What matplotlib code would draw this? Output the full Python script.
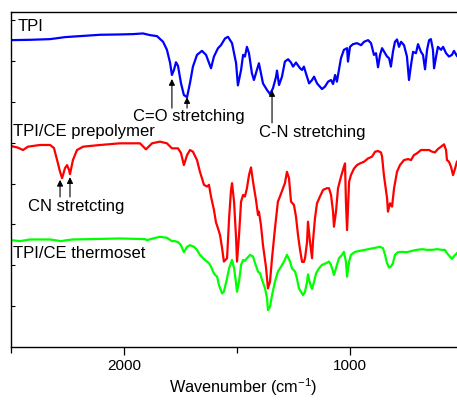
import numpy as np
import matplotlib
matplotlib.use('Agg')
import matplotlib.pyplot as plt
from matplotlib.ticker import MultipleLocator

plt.rcParams['font.family'] = ['Liberation Sans', 'DejaVu Sans']
plt.rcParams['mathtext.fontset'] = 'custom'
plt.rcParams['mathtext.rm'] = 'Liberation Sans'
plt.rcParams['mathtext.it'] = 'Liberation Sans'

#--- TPI (blue), wavenumber / transmittance (a.u.)
wn_tpi = [2500, 2416, 2327, 2261, 2106, 2018, 1960, 1916, 1885, 1854, 1827, 1810, 1796, 1788, 1779, 1770, 1761,
          1748, 1735, 1721, 1708, 1695, 1677, 1655, 1637, 1615, 1602, 1584, 1571, 1553, 1540, 1522, 1504,
          1496, 1482, 1473, 1465, 1456, 1447, 1434, 1425, 1412, 1403, 1394, 1385, 1367, 1354, 1341, 1327,
          1323, 1314, 1301, 1288, 1274, 1261, 1252, 1239, 1221, 1212, 1204, 1195, 1181, 1168, 1159, 1146,
          1133, 1124, 1111, 1097, 1084, 1075, 1066, 1058, 1049, 1040, 1027, 1013, 1009, 1000, 987, 969,
          951, 938, 920, 907, 894, 885, 876, 867, 858, 845, 836, 827, 819, 810, 801, 792, 783, 774, 761,
          748, 739, 730, 721, 708, 699, 686, 677, 668, 659, 650, 642, 633, 628, 619, 611, 597, 588, 575,
          562, 549, 540, 527]
t_tpi = [91.6, 91.7, 91.9, 92.5, 93.2, 93.3, 93.4, 93.6, 93.1, 92.8, 91.1, 88.7, 84.8, 81.2, 82.7, 85.0, 83.9,
         78.8, 75.2, 74.6, 78.8, 83.7, 87.2, 88.4, 87.2, 83.2, 86.7, 89.2, 90.1, 92.1, 92.6, 90.7, 84.7,
         78.1, 82.7, 87.2, 86.7, 89.6, 87.7, 81.7, 79.7, 82.7, 84.7, 81.7, 78.7, 76.7, 75.5, 77.2, 80.7,
         82.5, 78.2, 80.7, 85.2, 85.9, 84.9, 83.7, 84.9, 83.2, 82.7, 83.7, 81.7, 78.7, 79.7, 80.7, 78.7,
         77.7, 77.0, 77.7, 79.2, 79.7, 78.5, 81.2, 79.2, 82.7, 86.2, 88.7, 89.2, 85.2, 89.6, 90.4, 90.7,
         90.1, 91.1, 91.6, 90.7, 87.2, 87.7, 83.5, 87.2, 89.2, 87.7, 86.7, 86.2, 83.7, 88.1, 91.1, 91.8,
         89.6, 91.1, 90.1, 86.7, 79.7, 84.2, 88.1, 87.7, 90.4, 88.1, 87.2, 82.9, 88.7, 91.6, 91.9, 88.7,
         83.2, 86.7, 89.6, 88.7, 89.6, 87.7, 86.7, 87.2, 88.4, 86.9]

#--- TPI/CE prepolymer (red)
wn_pre = [2500, 2469, 2447, 2425, 2372, 2327, 2310, 2296, 2283, 2274, 2261, 2252, 2243, 2239, 2226, 2208,
          2181, 2106, 2018, 1929, 1903, 1876, 1841, 1810, 1788, 1761, 1748, 1735, 1721, 1708, 1695, 1677,
          1664, 1646, 1633, 1624, 1615, 1602, 1593, 1584, 1575, 1566, 1558, 1544, 1535, 1527, 1522, 1513,
          1504, 1500, 1491, 1482, 1473, 1465, 1456, 1447, 1438, 1429, 1416, 1407, 1403, 1394, 1385, 1372,
          1363, 1354, 1345, 1332, 1319, 1310, 1296, 1288, 1279, 1270, 1261, 1248, 1239, 1230, 1221, 1212,
          1204, 1199, 1190, 1186, 1177, 1168, 1164, 1155, 1146, 1133, 1119, 1102, 1093, 1084, 1075, 1071,
          1062, 1053, 1040, 1027, 1022, 1018, 1013, 1004, 996, 982, 969, 956, 938, 920, 903, 889, 876,
          863, 858, 850, 836, 832, 823, 814, 805, 792, 779, 761, 743, 730, 717, 704, 686, 668, 650, 637,
          624, 611, 597, 584, 575, 571, 562, 553, 544, 535, 527]
t_pre = [60.0, 59.5, 58.8, 59.8, 60.3, 60.3, 59.4, 55.8, 52.3, 50.4, 53.4, 54.3, 52.8, 51.6, 55.8, 58.8,
         59.8, 60.3, 60.8, 60.8, 59.0, 60.8, 61.3, 60.8, 59.3, 59.3, 57.9, 54.3, 57.3, 58.8, 58.3, 55.8,
         52.3, 48.4, 47.9, 48.4, 44.9, 40.9, 37.2, 35.4, 33.4, 29.5, 25.5, 26.5, 38.4, 46.4, 48.9, 43.4,
         32.4, 25.5, 33.4, 43.4, 45.4, 44.9, 47.4, 51.3, 53.6, 49.3, 43.9, 39.4, 40.4, 36.4, 30.4, 24.0,
         17.5, 19.5, 26.5, 35.4, 43.4, 44.9, 47.4, 48.9, 52.3, 50.4, 43.4, 42.4, 38.9, 33.4, 29.0, 25.4,
         25.4, 26.5, 31.4, 37.4, 31.4, 26.5, 31.4, 38.4, 42.9, 44.9, 46.9, 47.4, 47.4, 45.4, 40.4, 35.9,
         40.4, 47.4, 50.8, 53.8, 54.8, 43.4, 34.9, 49.3, 51.3, 53.3, 54.3, 54.8, 55.3, 56.3, 56.8, 58.3,
         58.5, 58.1, 56.8, 51.3, 44.4, 40.4, 42.9, 41.9, 47.4, 52.3, 54.3, 55.8, 56.1, 55.8, 57.3, 57.8,
         58.8, 58.8, 58.8, 58.3, 58.1, 59.1, 59.8, 60.5, 58.8, 55.8, 55.3, 53.8, 51.3, 53.3, 55.3]

#--- TPI/CE thermoset (green)
wn_cur = [2500, 2460, 2416, 2327, 2279, 2252, 2226, 2150, 2018, 1907, 1898, 1872, 1841, 1810, 1788, 1774,
          1761, 1748, 1735, 1721, 1708, 1690, 1677, 1664, 1642, 1624, 1615, 1606, 1597, 1588, 1580, 1566,
          1558, 1544, 1535, 1522, 1513, 1504, 1500, 1491, 1482, 1473, 1465, 1456, 1442, 1429, 1420, 1407,
          1398, 1389, 1376, 1367, 1363, 1354, 1345, 1332, 1319, 1305, 1292, 1279, 1265, 1257, 1243, 1235,
          1226, 1217, 1208, 1199, 1190, 1186, 1177, 1168, 1159, 1150, 1137, 1124, 1106, 1093, 1084, 1075,
          1071, 1062, 1049, 1035, 1027, 1018, 1013, 1004, 996, 978, 956, 934, 911, 889, 867, 854, 845,
          836, 827, 819, 810, 801, 788, 770, 748, 726, 704, 681, 659, 637, 615, 593, 580, 571, 558, 549,
          535, 527]
t_cur = [31.9, 31.6, 32.1, 32.1, 31.6, 31.9, 32.1, 32.2, 32.4, 32.2, 31.9, 32.4, 32.9, 32.6, 31.6, 31.6,
         31.3, 30.4, 28.3, 29.9, 30.4, 29.9, 29.0, 27.5, 26.0, 25.0, 24.0, 22.5, 21.5, 21.0, 18.5, 16.0,
         16.5, 20.5, 23.5, 26.0, 23.5, 19.0, 16.5, 19.5, 24.5, 26.0, 25.7, 26.5, 27.5, 27.0, 25.0, 22.5,
         22.0, 20.0, 17.5, 14.5, 11.0, 12.0, 15.5, 19.5, 22.5, 24.0, 25.5, 27.5, 25.5, 23.5, 22.5, 20.5,
         17.5, 16.5, 15.5, 16.5, 19.5, 21.7, 19.0, 17.3, 19.5, 22.0, 23.5, 24.5, 25.0, 25.5, 24.5, 22.5,
         21.5, 23.5, 26.5, 27.5, 28.4, 25.5, 21.0, 25.5, 27.5, 28.4, 28.7, 29.0, 29.3, 29.6, 29.9, 29.5,
         27.5, 25.0, 23.7, 24.0, 25.0, 27.5, 28.3, 28.4, 28.3, 28.7, 29.0, 29.2, 29.0, 29.0, 29.2, 29.0,
         29.0, 28.0, 27.0, 26.3, 27.5, 28.0]

fig = plt.figure(figsize=(4.57, 4.03), dpi=100)
ax = fig.add_axes([11 / 457, 56 / 403, 452 / 457, 335 / 403])

ax.plot(wn_tpi, t_tpi, color='#0000ff', lw=1.6)
ax.plot(wn_pre, t_pre, color='#ff0000', lw=1.6)
ax.plot(wn_cur, t_cur, color='#00ff00', lw=1.6)

ax.set_xlim(2500, 500)
ax.set_ylim(0, 100)

ax.xaxis.set_major_locator(MultipleLocator(1000))
ax.xaxis.set_minor_locator(MultipleLocator(500))
ax.tick_params(axis='x', which='major', direction='out', length=6, width=0.9, labelsize=11, pad=3)
ax.tick_params(axis='x', which='minor', direction='out', length=4, width=0.9)
ax.set_yticks(np.arange(12.2, 100, 12.2))
ax.tick_params(axis='y', direction='in', length=3, width=0.8, labelleft=False)
ax.tick_params(top=False, right=False)
for s in ax.spines.values():
    s.set_linewidth(1.0)

ax.set_xlabel('Wavenumber (cm$^{\\mathregular{-1}}$)', fontsize=11.7)
ax.xaxis.set_label_coords(0.513, -0.086)

#--- labels
fs = 12
ax.text(2469, 94.3, 'TPI', fontsize=fs)
ax.text(1960, 67.5, 'C=O stretching', fontsize=fs)
ax.text(1403, 62.7, 'C-N stretching', fontsize=fs)
ax.text(2491, 63.0, 'TPI/CE prepolymer', fontsize=fs)
ax.text(2425, 40.6, 'CN stretcting', fontsize=fs)
ax.text(2491, 26.6, 'TPI/CE thermoset', fontsize=fs)

arrow = dict(arrowstyle='-|>', color='k', lw=0.8, mutation_scale=9, shrinkA=0, shrinkB=0)
for xa, y0, y1 in [(1788, 71.3, 80.0), (1721, 71.3, 74.6), (1345, 66.9, 76.7),
                   (2283, 44.8, 49.9), (2239, 44.8, 50.7)]:
    ax.annotate('', xy=(xa, y1), xytext=(xa, y0), arrowprops=arrow)

fig.savefig('out.png', dpi=100)
